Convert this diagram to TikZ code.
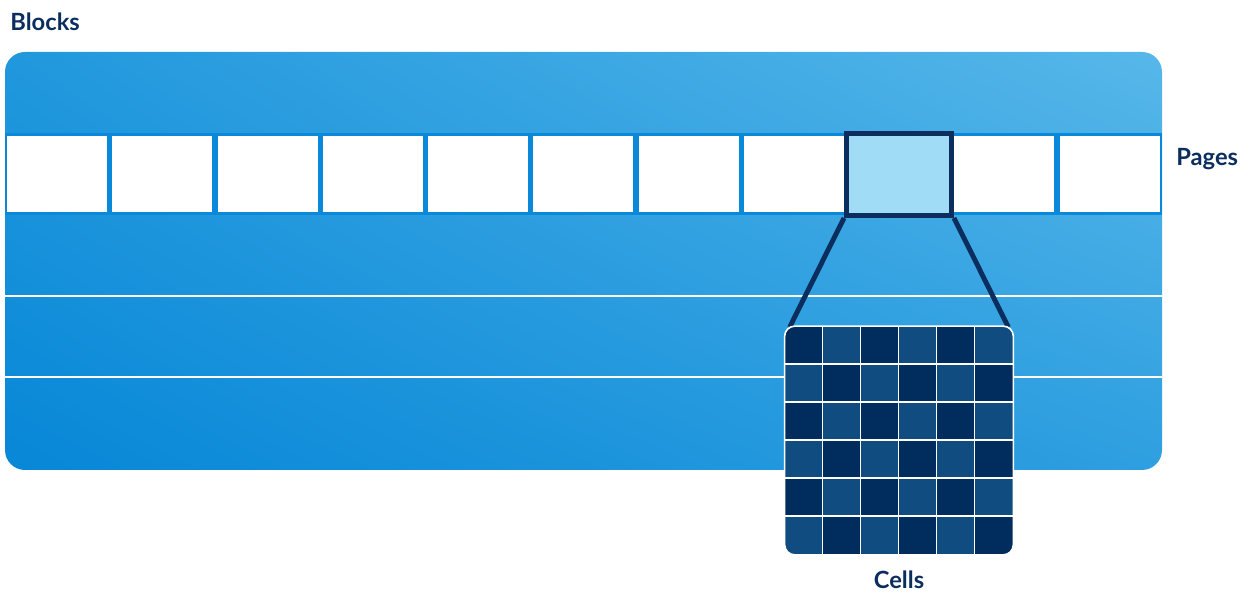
\documentclass[tikz,border=0pt]{standalone}
\usepackage{fontspec}
\setmainfont{Lato}
\usetikzlibrary{positioning, calc, shadings}
\definecolor{navy}{RGB}{11,46,94}
\definecolor{cellA}{RGB}{0,45,94}
\definecolor{cellB}{RGB}{16,76,128}
\definecolor{band}{RGB}{10,136,217}
\definecolor{pick}{RGB}{160,220,246}
\definecolor{blkUL}{RGB}{33,152,221}
\definecolor{blkUR}{RGB}{87,183,233}
\definecolor{blkLL}{RGB}{7,135,215}
\definecolor{blkLR}{RGB}{46,159,224}

\begin{document}
\begin{tikzpicture}[x=0.02cm, y=-0.02cm,
    page/.style={fill=white, minimum width=2cm, minimum height=1.52cm, inner sep=0pt},
    heading/.style={font=\bfseries\fontsize{13.5}{16}\selectfont, text=navy, inner sep=0pt},
    zoomline/.style={navy, line width=2.8pt}]
  \useasboundingbox (0,0) rectangle (1255,594);
  \shade[rounded corners=0.4cm, upper left=blkUL, upper right=blkUR,
    lower left=blkLL, lower right=blkLR] (5,52) rectangle (1162,470);
  \fill[band] (5,133) rectangle (1162,215);
  \draw[white, line width=1.6pt] (5,296) -- (1162,296);
  \draw[white, line width=1.6pt] (5,377) -- (1162,377);
  \foreach \i in {1,...,8,10,11}
    \node[page] (p\i) at ({57+105.27*(\i-1)},174) {};
  \node[page, fill=pick, draw=navy, line width=2.8pt, minimum width=2.1cm,
    minimum height=1.64cm] (p9) at (899,174.5) {};
  \node[minimum size=4.56cm, inner sep=0pt] (cells) at (899,440.5) {};
  \draw[zoomline] (p9.south west) -- ($(cells.north west)+(5,1)$);
  \draw[zoomline] (p9.south east) -- ($(cells.north east)+(-5,1)$);
  \begin{scope}
    \clip[rounded corners=0.2cm] (cells.north west) rectangle (cells.south east);
    \foreach \r in {0,...,5}
      \foreach \c in {0,...,5} {
        \pgfmathtruncatemacro\k{mod(\r+\c,2)}
        \ifnum\k=0 \def\cc{cellA}\else\def\cc{cellB}\fi
        \fill[\cc] ($(cells.north west)+(38*\c,38*\r)$) rectangle +(38,38);
      }
    \foreach \c in {1,...,5} {
      \draw[white, line width=0.9pt] ($(cells.north west)+(38*\c,0)$) -- ($(cells.south west)+(38*\c,0)$);
      \draw[white, line width=0.9pt] ($(cells.north west)+(0,38*\c)$) -- ($(cells.north east)+(0,38*\c)$);
    }
  \end{scope}
  \draw[white, line width=0.9pt, rounded corners=0.2cm] (cells.north west) rectangle (cells.south east);
  \node[heading, anchor=base west] (blocks) at (10,31) {Blocks};
  \node[heading, anchor=base west] (pages) at (1176,166) {Pages};
  \node[heading, anchor=base] (cellcap) at ($(cells.south)+(0,34)$) {Cells};
\end{tikzpicture}
\end{document}
